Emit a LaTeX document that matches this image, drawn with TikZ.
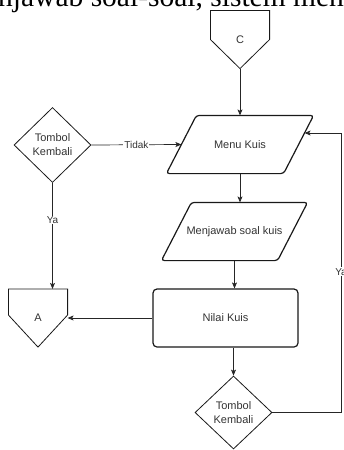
\documentclass[tikz,border=0pt]{standalone}
\usepackage{fontspec}
\setmainfont{Liberation Serif}
\setsansfont{Liberation Sans}
\usetikzlibrary{shapes.geometric, arrows.meta, positioning, calc}

\begin{document}
\begin{tikzpicture}[x=1pt,y=-1pt,
	font=\sffamily\fontsize{11}{14}\selectfont,
	box/.style={draw=black!90, line width=1.2pt, text=black!80, inner sep=0pt, align=center},
	io/.style={box, draw=none, rectangle, minimum height=57pt, minimum width=116pt},
	proc/.style={box, rectangle, rounded corners=4pt, minimum width=145pt, minimum height=58pt},
	decision/.style={box, diamond, line width=0.8pt, minimum width=77pt, minimum height=75pt},
	offpage/.style={box, draw=none, rectangle, minimum width=58pt, minimum height=57pt},
	edgeline/.style={draw=black!90, line width=0.8pt, line join=miter},
	ioline/.style={draw=black!90, line width=1.2pt, rounded corners=3pt},
	arr/.style={-{Stealth[length=6pt,width=5pt,inset=1.5pt]}, line width=0.7pt, draw=black!85},
	lbl/.style={fill=white, inner sep=1pt, text=black!80, font=\sffamily\fontsize{10}{12}\selectfont}]
	\useasboundingbox (0,0) rectangle (343,450);
	\node[font=\rmfamily\fontsize{29.5}{32}\selectfont, anchor=base west, inner sep=0pt] (header) at (-2,6) {njawab soal-soal, sistem menampilkan};
	\node[offpage] (C) at (240,39.5) {C};
	\draw[edgeline] (C.north west) -- (C.north east) -- (C.east) -- (C.south) -- (C.west) -- cycle;
	\node[io] (menu) at (240,144.5) {Menu Kuis};
	\draw[ioline] ($(menu.north west)+(15,0)$) -- ($(menu.north east)+(15,0)$) -- ($(menu.south east)+(-15,0)$) -- ($(menu.south west)+(-15,0)$) -- cycle;
	\node[decision] (back1) at (52.5,145) {Tombol\\Kembali};
	\node[io, minimum width=115pt] (jawab) at (234.5,231.5) {Menjawab soal kuis};
	\draw[ioline] ($(jawab.north west)+(15,0)$) -- ($(jawab.north east)+(15,0)$) -- ($(jawab.south east)+(-15,0)$) -- ($(jawab.south west)+(-15,0)$) -- cycle;
	\node[proc] (nilai) at (225.5,318) {Nilai Kuis};
	\node[offpage] (A) at (38,318) {A};
	\draw[edgeline] (A.north west) -- (A.north east) -- ($(A.east)+(0,-3)$) -- (A.south) -- ($(A.west)+(0,-3)$) -- cycle;
	\node[decision, minimum height=73pt] (back2) at (233.5,412.5) {Tombol\\Kembali};
	\coordinate (loop) at (341,133);
	\coordinate (menu in) at ($(menu.east)+(6,-11.5)$);
	\draw[arr] (C.south) -- (C.south |- menu.north);
	\draw[arr] (back1.east) -- node[lbl] {Tidak} (menu.west);
	\draw[arr] (menu.south) -- (menu.south |- jawab.north);
	\draw[arr] (jawab.south) -- (jawab.south |- nilai.north);
	\draw[arr] (back1.south) -- node[lbl, pos=0.35] {Ya} (back1.south |- A.north);
	\draw[arr] (nilai.west) -- (A.east);
	\draw[arr] (back2.north |- nilai.south) -- (back2.north);
	\draw[arr] (back2.east) -| node[lbl, pos=0.752] {Ya} (loop) -- (menu in);
\end{tikzpicture}
\end{document}
